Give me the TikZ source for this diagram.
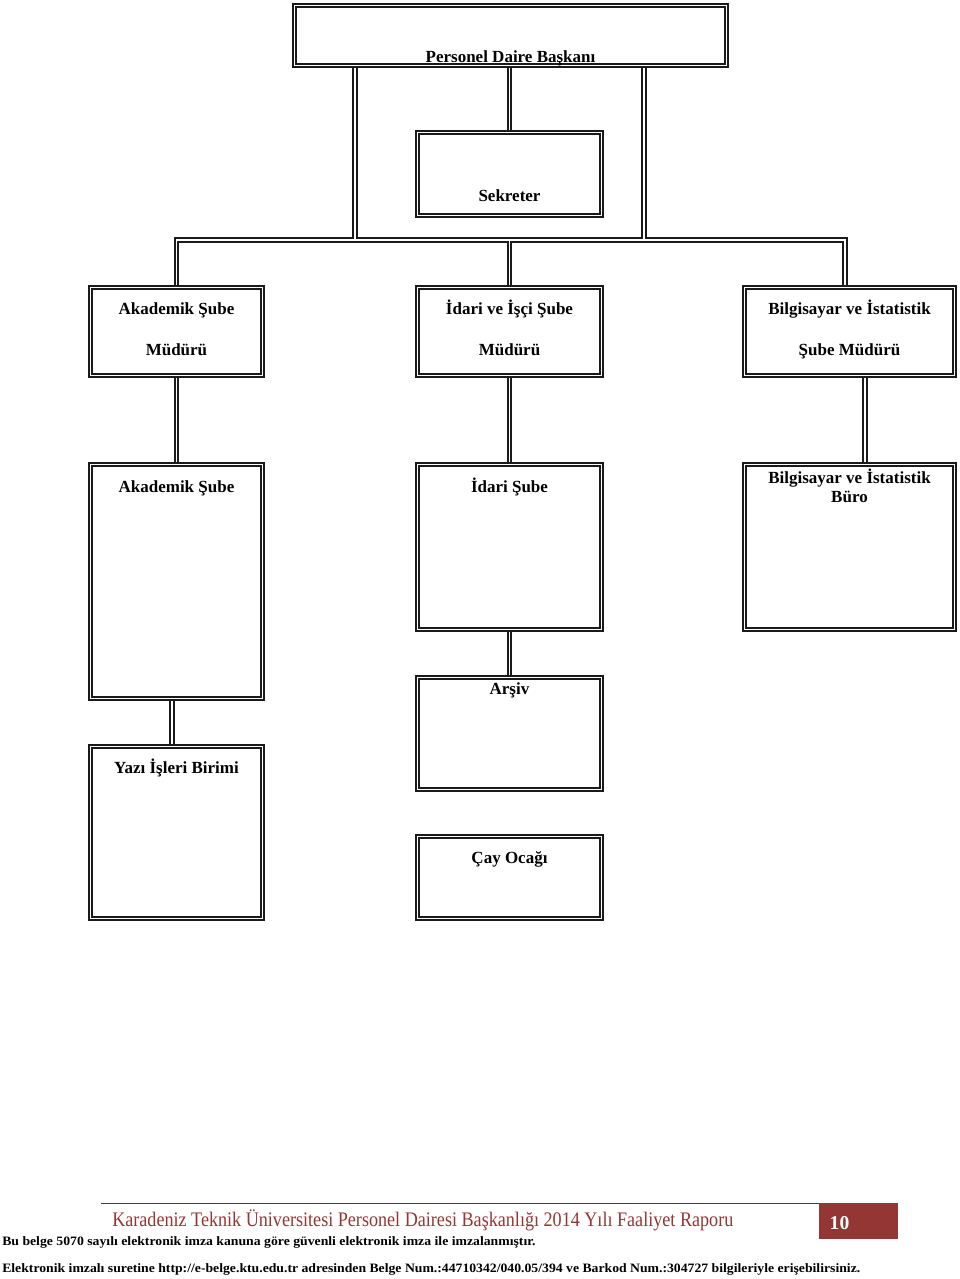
\documentclass[tikz,border=0pt]{standalone}
\usepackage{fontspec}
\setmainfont{Liberation Serif}
\usetikzlibrary{fit,backgrounds}
\definecolor{ink}{HTML}{1A1A1A}
\definecolor{repred}{HTML}{943634}
\tikzset{
  box/.style={draw=ink, double=white, line width=1.25pt, double distance=1.3pt,
    fill=white, inner sep=0pt, outer sep=0pt, line join=miter},
  conn/.style={draw=ink, double=white, line width=1.25pt, double distance=1.3pt,
    line join=miter},
  lbl/.style={anchor=base, inner sep=0pt, font=\fontsize{12.75}{15}\selectfont\bfseries, text=black},
}
\begin{document}
\begin{tikzpicture}[x=0.75pt,y=-0.75pt]
\useasboundingbox (0,0) rectangle (960,1279);
% boxes
\node[box, fit={(294.5,5.5)(726.5,65.5)}] (top) {};
\node[box, fit={(417.5,132.5)(601.5,215.5)}] (sek) {};
\node[box, fit={(90.5,287.5)(262.5,375.5)}] (ak2) {};
\node[box, fit={(417.5,287.5)(601.5,375.5)}] (id2) {};
\node[box, fit={(744.5,287.5)(954.5,375.5)}] (bi2) {};
\node[box, fit={(90.5,464.5)(262.5,698.5)}] (ak3) {};
\node[box, fit={(417.5,464.5)(601.5,629.5)}] (id3) {};
\node[box, fit={(744.5,464.5)(954.5,629.5)}] (bi3) {};
\node[box, fit={(417.5,677.5)(601.5,789.5)}] (ars) {};
\node[box, fit={(90.5,746.5)(262.5,918.5)}] (yazi) {};
\node[box, fit={(417.5,836.5)(601.5,918.5)}] (cay) {};
% junction coordinates
\coordinate (jL) at (355,240);
\coordinate (jR) at (644,240);
\coordinate (bR) at (845,240);
\coordinate (cB) at (865,0);
\coordinate (cA) at (172,0);
\begin{pgfonlayer}{background}
\draw[conn]
  (top.south -| jL) -- (jL)
  (top.south -| jR) -- (jR)
  (top.south -| sek.north) -- (sek.north)
  (ak2.north) -- (ak2.north |- jL) -- (bR) -- (bR |- bi2.north)
  (id2.north) -- (id2.north |- jL)
  (ak2.south) -- (ak3.north)
  (id2.south) -- (id3.north)
  (bi2.south -| cB) -- (bi3.north -| cB)
  (id3.south) -- (ars.north)
  (ak3.south -| cA) -- (yazi.north -| cA);
\end{pgfonlayer}
% labels
\node[lbl] (t-top) at (510.5,62) {Personel Daire Başkanı};
\node[lbl] (t-sek) at (509.5,201) {Sekreter};
\node[lbl] (t-ak2a) at (176.5,314) {Akademik Şube};
\node[lbl] (t-ak2b) at (176.5,355) {Müdürü};
\node[lbl] (t-id2a) at (509.5,314) {İdari ve İşçi Şube};
\node[lbl] (t-id2b) at (509.5,355) {Müdürü};
\node[lbl] (t-bi2a) at (849.5,314) {Bilgisayar ve İstatistik};
\node[lbl] (t-bi2b) at (849.5,355) {Şube Müdürü};
\node[lbl] (t-ak3) at (176.5,492) {Akademik Şube};
\node[lbl] (t-id3) at (509.5,492) {İdari Şube};
\node[lbl] (t-bi3a) at (849.5,483) {Bilgisayar ve İstatistik};
\node[lbl] (t-bi3b) at (849.5,502) {Büro};
\node[lbl] (t-ars) at (509.5,694) {Arşiv};
\node[lbl] (t-yazi) at (176.5,773) {Yazı İşleri Birimi};
\node[lbl] (t-cay) at (509.5,863) {Çay Ocağı};
% footer
\coordinate (fl) at (101,1203.5);
\node[fill=repred, inner sep=0pt, outer sep=0pt, fit={(819,1203)(898,1239)}] (pg) {};
\draw[line width=0.6pt, draw=black!75] (fl) -- (fl -| pg.west);
\node[anchor=base, inner sep=0pt, text=white, font=\fontsize{14.7}{16}\selectfont\bfseries] (pgnum) at (839.5,1229) {10};
\node[anchor=base west, inner sep=0pt, text=repred] (title) at (112,1226)
  {\resizebox{465.75pt}{\height}{\fontsize{15.5}{17}\selectfont Karadeniz Teknik Üniversitesi Personel Dairesi Başkanlığı 2014 Yılı Faaliyet Raporu}};
\node[anchor=base west, inner sep=0pt] (foot1) at (2,1245)
  {\resizebox{400pt}{\height}{\fontsize{9.6}{11}\selectfont\bfseries Bu belge 5070 sayılı elektronik imza kanuna göre güvenli elektronik imza ile imzalanmıştır.}};
\node[anchor=base west, inner sep=0pt] (foot2) at (2,1272.5)
  {\resizebox{643.5pt}{\height}{\fontsize{9.6}{11}\selectfont\bfseries Elektronik imzalı suretine http://e-belge.ktu.edu.tr adresinden Belge Num.:44710342/040.05/394 ve Barkod Num.:304727 bilgileriyle erişebilirsiniz.}};
\end{tikzpicture}
\end{document}
